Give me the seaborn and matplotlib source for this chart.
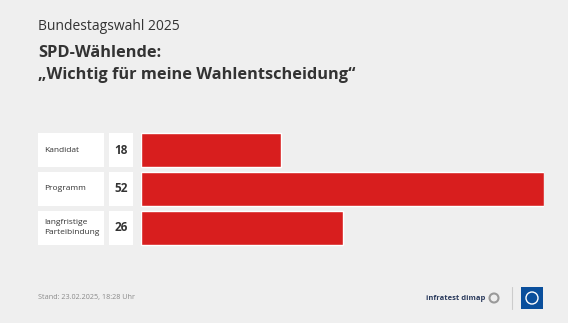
import matplotlib.pyplot as plt
import matplotlib.transforms as mtransforms
from matplotlib.patches import Rectangle
import seaborn as sns
import pandas as pd

# data
categories = ['Kandidat', 'Programm', 'langfristige\nParteibindung']
values = [18, 52, 26]

bg = '#efefef'
red = '#d81e1e'
dark = '#333333'

sns.set_theme(style='white')
plt.rcParams['font.family'] = ['Open Sans', 'DejaVu Sans']

W, H = 568, 323
fig = plt.figure(figsize=(W / 100, H / 100), dpi=100, facecolor=bg)
# bars span x=141..544 px, y=133..245 px
ax = fig.add_axes([141 / W, 1 - 247 / H, (544 - 141) / W, (247 - 131) / H])
ax.set_facecolor(bg)

df = pd.DataFrame({'cat': categories, 'val': values})
sns.barplot(data=df, x='val', y='cat', orient='h', color=red, saturation=1,
            width=0.88, ax=ax)
ax.set_xlim(0, max(values))
ax.set_ylim(len(values) - 0.5, -0.5)
ax.set_axis_off()

# x in inches (= px/100), y in data units
trans = mtransforms.blended_transform_factory(fig.dpi_scale_trans, ax.transData)
for i, (cat, val) in enumerate(zip(categories, values)):
    for x0, w in [(38, 66), (109, 24)]:
        ax.add_patch(Rectangle((x0 / 100, i - 0.44), w / 100, 0.88, transform=trans,
                               facecolor='white', edgecolor='none', clip_on=False))
    ax.text(44 / 100, i, cat, transform=trans, ha='left', va='center',
            fontsize=6, color=dark, linespacing=1.5)
    ax.text(121 / 100, i, str(val), transform=trans, ha='center', va='center',
            fontsize=8.5, fontweight='bold', color=dark)

# titles
fig.text(38 / W, 1 - 27 / H, 'Bundestagswahl 2025', fontsize=10, color=dark,
         ha='left', va='center')
fig.text(38 / W, 1 - 53 / H, 'SPD-Wählende:', fontsize=11.8, fontweight='bold',
         color=dark, ha='left', va='center')
fig.text(38 / W, 1 - 75 / H, '„Wichtig für meine Wahlentscheidung“', fontsize=11.8,
         fontweight='bold', color=dark, ha='left', va='center')

# footer (pixel positions via inches from bottom-left)
inch = fig.dpi_scale_trans
fig.text(38 / W, 1 - 298 / H, 'Stand: 23.02.2025, 18:28 Uhr', fontsize=5.2,
         color='#8a8a8a', ha='left', va='center')
fig.text(485 / W, 1 - 298 / H, 'infratest dimap', fontsize=5.4, fontweight='bold',
         color='#2a3a5c', ha='right', va='center')
fig.patches.append(plt.Circle((4.94, (H - 298) / 100), 0.045, transform=inch,
                              facecolor='none', edgecolor='#9a9a9a', linewidth=1.5))
fig.add_artist(plt.Line2D([5.12, 5.12], [(H - 309) / 100, (H - 287) / 100],
                          transform=inch, color='#cccccc', linewidth=0.8))
fig.patches.append(Rectangle((5.21, (H - 309) / 100), 0.22, 0.22, transform=inch,
                             facecolor='#0a4f9c', edgecolor='none'))
fig.patches.append(plt.Circle((5.32, (H - 298) / 100), 0.06, transform=inch,
                              facecolor='none', edgecolor='white', linewidth=1))

fig.savefig('out.png', dpi=100, facecolor=bg)
